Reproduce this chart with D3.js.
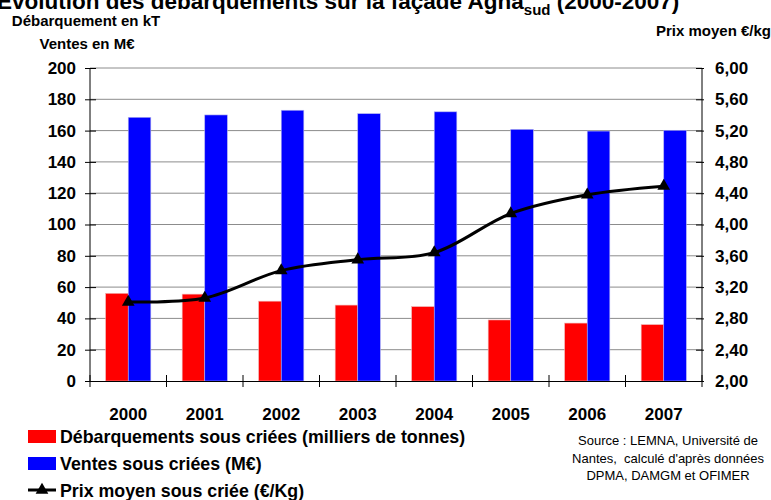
<!DOCTYPE html>
<html>
<head>
<meta charset="utf-8">
<script src="https://cdn.jsdelivr.net/npm/d3@7"></script>
<style>
  body { margin: 0; background: #fff; }
  svg { display: block; font-family: "Liberation Sans", Arial, sans-serif; }
</style>
</head>
<body>
<svg width="771" height="500"></svg>
<script>
const years = ['2000', '2001', '2002', '2003', '2004', '2005', '2006', '2007'];
const debarquements = [56, 55.5, 51, 48.5, 47.5, 39, 37, 36];
const ventes = [168.5, 170, 173, 170.8, 172, 160.8, 159.7, 160.2];
const prix = [3.01, 3.06, 3.41, 3.55, 3.64, 4.14, 4.38, 4.49];
const leftTicks = [0, 20, 40, 60, 80, 100, 120, 140, 160, 180, 200];
const rightTicks = [2, 2.4, 2.8, 3.2, 3.6, 4.0, 4.4, 4.8, 5.2, 5.6, 6.0];

const svg = d3.select('svg');
const plot = {l: 90, r: 702, t: 68, b: 381};

const x = d3.scaleBand().domain(years).range([plot.l, plot.r]).padding(0);
const xSub = d3.scaleBand().domain(['deb', 'ventes'])
    .range([x.bandwidth() * 0.205, x.bandwidth() * 0.795]);
const yL = d3.scaleLinear().domain([0, 200]).range([plot.b, plot.t]);
const yR = d3.scaleLinear().domain([2, 6]).range([plot.b, plot.t]);

// title (clipped at the top like the original)
const title = svg.append('text')
    .attr('x', -3).attr('y', 9)
    .style('font-size', '22.5px').style('font-weight', 'bold');
title.append('tspan').text('Evolution des débarquements sur la façade Agna');
title.append('tspan').attr('dy', 6).style('font-size', '15px').text('sud');
title.append('tspan').attr('dy', -6).text(' (2000-2007)');

// axis titles
svg.append('text').attr('x', 86).attr('y', 26).attr('text-anchor', 'middle')
    .style('font-size', '15px').style('font-weight', 'bold').text('Débarquement en kT');
svg.append('text').attr('x', 87).attr('y', 49).attr('text-anchor', 'middle')
    .style('font-size', '15px').style('font-weight', 'bold').text('Ventes en M€');
svg.append('text').attr('x', 771).attr('y', 36).attr('text-anchor', 'end')
    .style('font-size', '15px').style('font-weight', 'bold').text('Prix moyen €/kg');

// gridlines
svg.append('g').selectAll('line')
    .data(leftTicks.slice(1))
    .join('line')
    .attr('x1', plot.l).attr('x2', plot.r)
    .attr('y1', d => yL(d)).attr('y2', d => yL(d))
    .attr('stroke', '#8c8c8c').attr('stroke-width', 1);

// bars
const groups = svg.append('g').selectAll('g')
    .data(years)
    .join('g')
    .attr('transform', d => `translate(${x(d)},0)`);

groups.append('rect')
    .attr('x', xSub('deb'))
    .attr('width', xSub.bandwidth())
    .attr('y', (d, i) => yL(debarquements[i]))
    .attr('height', (d, i) => yL(0) - yL(debarquements[i]))
    .attr('fill', '#ff0000')
    .attr('stroke', '#f0b0b0').attr('stroke-width', 0.6);

groups.append('rect')
    .attr('x', xSub('ventes'))
    .attr('width', xSub.bandwidth())
    .attr('y', (d, i) => yL(ventes[i]))
    .attr('height', (d, i) => yL(0) - yL(ventes[i]))
    .attr('fill', '#0000ff')
    .attr('stroke', '#b0b0f0').attr('stroke-width', 0.6);

// axes
const axL = svg.append('g')
    .attr('transform', `translate(${plot.l},0)`)
    .call(d3.axisLeft(yL).tickValues(leftTicks).tickSize(5).tickPadding(9));
axL.selectAll('.tick line').attr('x1', 6);

const axR = svg.append('g')
    .attr('transform', `translate(${plot.r},0)`)
    .call(d3.axisRight(yR).tickValues(rightTicks).tickSize(2).tickPadding(11)
        .tickFormat(d => d3.format('.2f')(d).replace('.', ',')));
axR.selectAll('.tick line').attr('x1', -6);

const axX = svg.append('g')
    .attr('transform', `translate(0,${plot.b})`)
    .call(d3.axisBottom(x).tickSize(0).tickPadding(27));
axX.selectAll('.tick').each(function(d, i) {
    d3.select(this).append('line')
        .attr('x1', -x.step() / 2).attr('x2', -x.step() / 2)
        .attr('y1', -6).attr('y2', 6).attr('stroke', '#000');
});
axX.append('line')
    .attr('x1', plot.r).attr('x2', plot.r).attr('y1', -6).attr('y2', 6).attr('stroke', '#000');

[axL, axR, axX].forEach(a => {
    a.selectAll('.domain').attr('stroke', '#000').attr('stroke-width', 1);
    a.selectAll('.tick line').attr('stroke', '#000');
    a.selectAll('text').style('font-size', '17px').style('font-weight', 'bold')
        .style('font-family', '"Liberation Sans", Arial, sans-serif').attr('fill', '#000');
});
axL.select('.domain').attr('d', `M0,${plot.b}V${plot.t}`);
axR.select('.domain').attr('d', `M0,${plot.b}V${plot.t}`);

// price line
const line = d3.line()
    .x((d, i) => x(years[i]) + x.bandwidth() / 2)
    .y(d => yR(d))
    .curve(d3.curveCatmullRom.alpha(0.5));

svg.append('path')
    .datum(prix)
    .attr('d', line)
    .attr('fill', 'none')
    .attr('stroke', '#000')
    .attr('stroke-width', 3);

const tri = d3.symbol().type(d3.symbolTriangle).size(70);
svg.append('g').selectAll('path')
    .data(prix)
    .join('path')
    .attr('d', tri)
    .attr('transform', (d, i) => `translate(${x(years[i]) + x.bandwidth() / 2},${yR(d)})`)
    .attr('fill', '#000');

// legend
const legend = svg.append('g').attr('transform', 'translate(28,0)');
const legItems = [
    {label: 'Débarquements sous criées (milliers de tonnes)', type: 'rect', color: '#ff0000', y: 436},
    {label: 'Ventes sous criées (M€)', type: 'rect', color: '#0000ff', y: 463},
    {label: 'Prix moyen sous criée (€/Kg)', type: 'line', color: '#000', y: 490}
];
legItems.forEach(d => {
    if (d.type === 'rect') {
        legend.append('rect').attr('x', 0).attr('y', d.y - 6).attr('width', 28).attr('height', 13)
            .attr('fill', d.color);
    } else {
        legend.append('line').attr('x1', 0).attr('x2', 28).attr('y1', d.y).attr('y2', d.y)
            .attr('stroke', '#000').attr('stroke-width', 3);
        legend.append('path').attr('d', tri).attr('transform', `translate(14,${d.y})`).attr('fill', '#000');
    }
    legend.append('text').attr('x', 32).attr('y', d.y + 6.5)
        .style('font-size', '17.8px').style('font-weight', 'bold').text(d.label);
});

// source
const source = ['Source : LEMNA, Université de', 'Nantes,  calculé d\'après données', 'DPMA, DAMGM et OFIMER'];
svg.append('g').selectAll('text')
    .data(source)
    .join('text')
    .attr('x', 668).attr('y', (d, i) => 445 + i * 17.5)
    .attr('text-anchor', 'middle')
    .style('font-size', '13px')
    .style('white-space', 'pre')
    .attr('xml:space', 'preserve')
    .text(d => d);
</script>
</body>
</html>
